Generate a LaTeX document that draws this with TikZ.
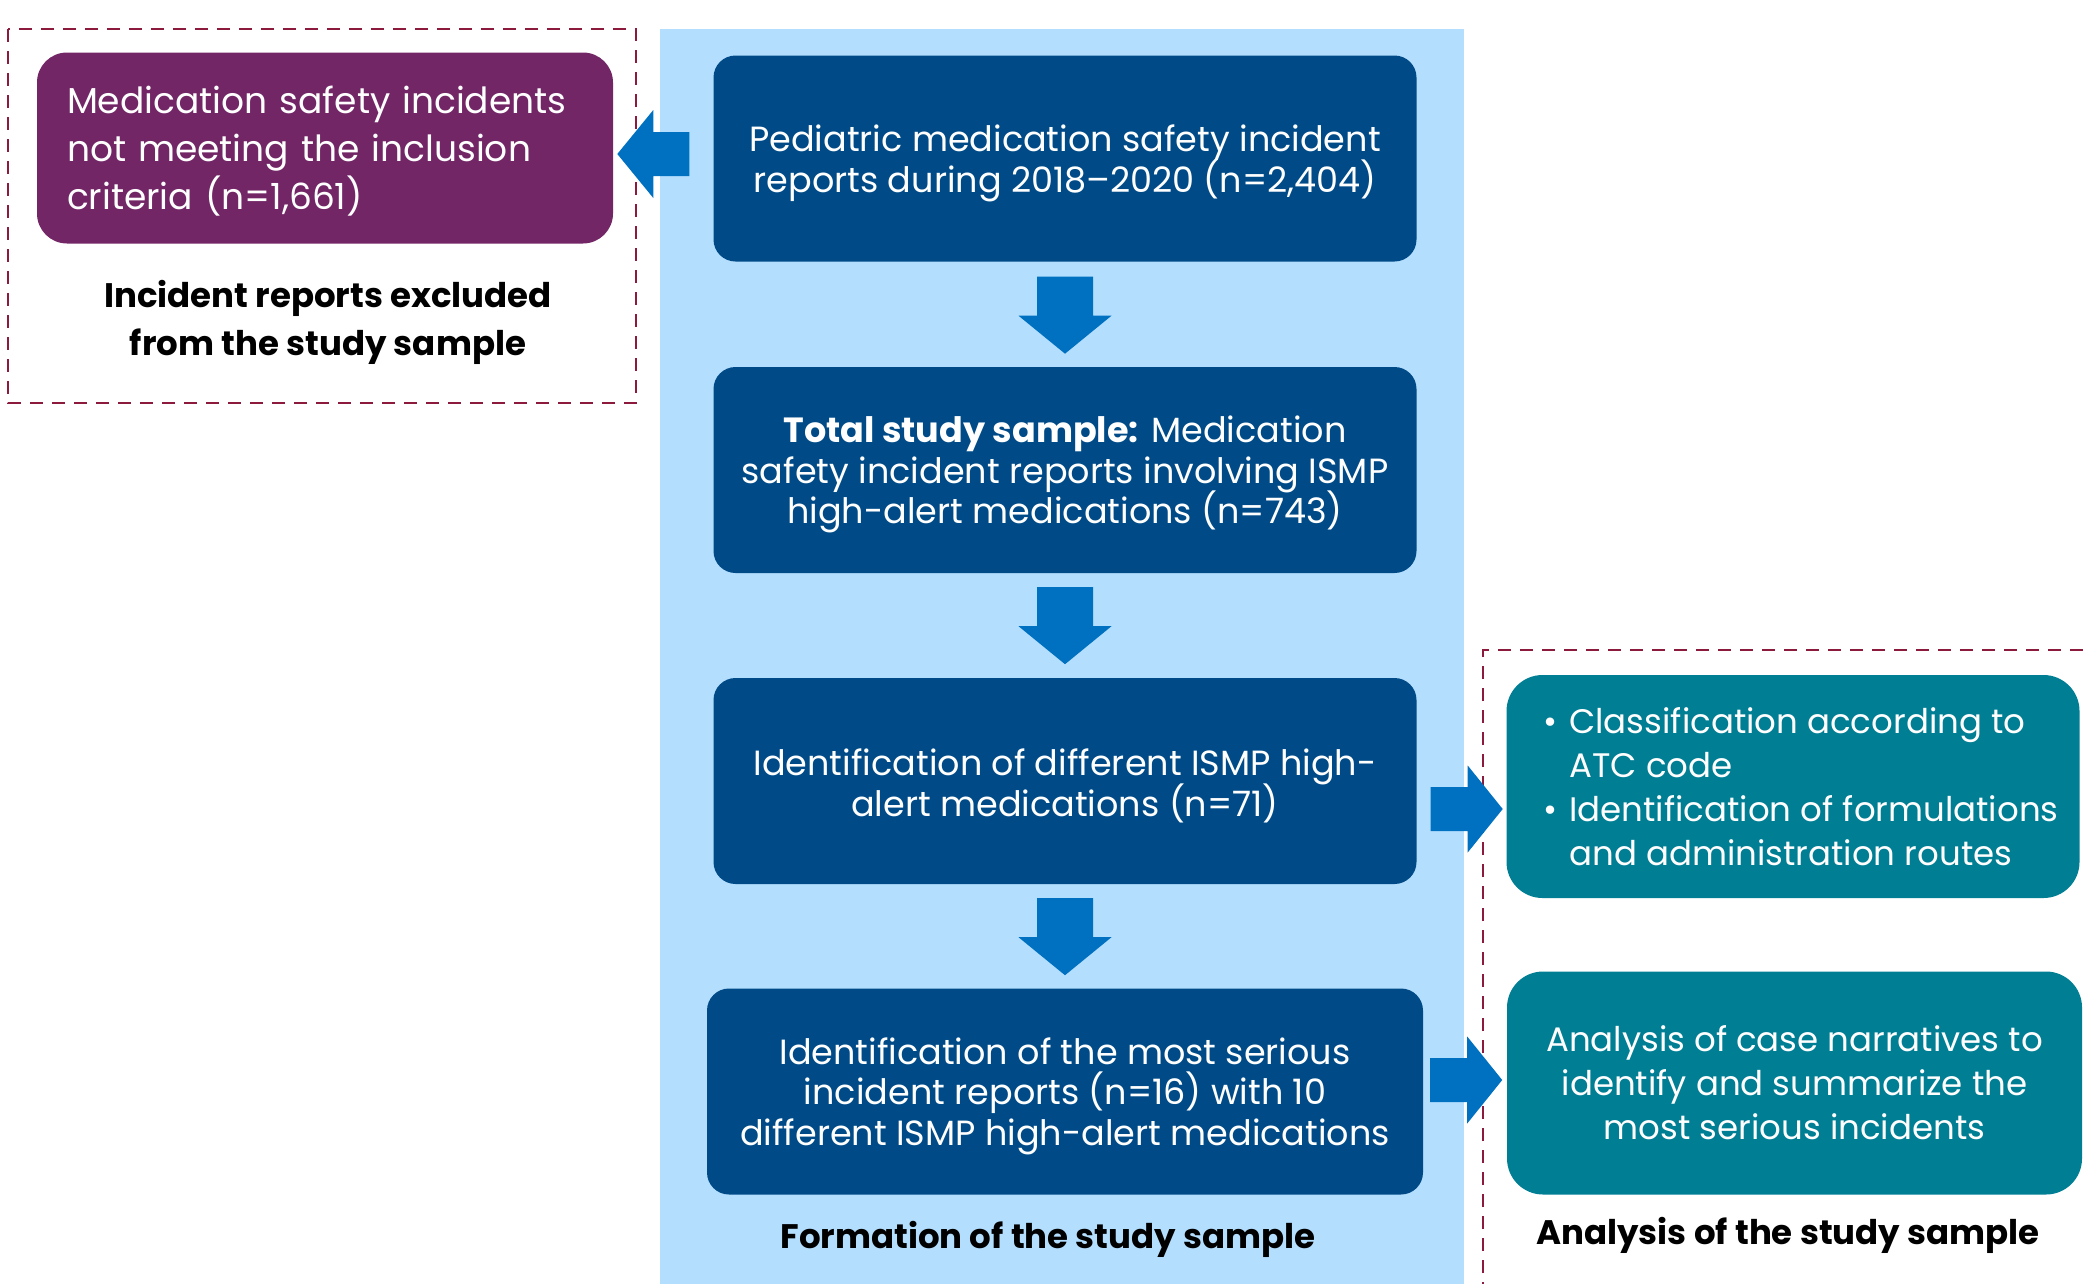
\documentclass[tikz,border=0pt]{standalone}
\usepackage{fontspec}
\setmainfont{Poppins}
\usetikzlibrary{arrows.meta}
\definecolor{panelblue}{RGB}{179,222,254}
\definecolor{darkblue}{RGB}{0,75,135}
\definecolor{arrowblue}{RGB}{0,112,192}
\definecolor{purplebox}{RGB}{114,38,102}
\definecolor{tealbox}{RGB}{0,126,148}
\definecolor{dashred}{RGB}{139,26,61}
\newcommand{\lowtext}[3]{\raisebox{-#1}[0pt][0pt]{\parbox{#2}{\lineskiplimit=-20pt\relax\centering #3}}}
\begin{document}
\begin{tikzpicture}[x=1pt,y=-1pt,
  bluebox/.style={fill=darkblue, rounded corners=22pt, minimum width=703pt, minimum height=206pt, inner sep=0pt, text=white, align=center, font=\fontsize{35}{40.5}\selectfont},
  purplestyle/.style={fill=purplebox, rounded corners=30pt, minimum width=576pt, minimum height=191pt, inner xsep=30pt, inner ysep=0pt, text width=516pt, text=white, align=left, font=\fontsize{36}{48}\selectfont},
  tealstyle/.style={fill=tealbox, rounded corners=36pt, minimum width=573pt, minimum height=223pt, inner sep=0pt, text=white, align=center, font=\fontsize{34}{44}\selectfont},
  heading/.style={inner sep=0pt, align=center, font=\fontsize{34}{48}\selectfont\bfseries},
  dashbox/.style={draw=dashred, line width=2.5pt, dash pattern=on 13pt off 9pt},
  arrowfill/.style={fill=arrowblue}
]
\useasboundingbox (0,0) rectangle (2090,1283);
\fill[white] (0,0) rectangle (2090,1283);
% panel
\fill[panelblue] (660,29) rectangle (1464,1290);
% dashed frames
\draw[dashbox] (8,29) rectangle (636,403);
\draw[dashbox] (1483,1295) -- (1483,650) -- (2100,650);
% excluded box
\node[purplestyle] (p) at (325,148) {\raisebox{-9pt}[0pt][0pt]{\parbox{516pt}{\raggedright Medication safety incidents not meeting the inclusion criteria (n=1,661)}}};
\node[heading] (hx) at (328,322) {Incident reports excluded\\from the study sample};
% main boxes
\node[bluebox] (b1) at (1065,158.5) {\lowtext{11pt}{680pt}{Pediatric medication safety incident\\reports during 2018\textendash2020 (n=2,404)}};
\node[bluebox] (b2) at (1065,470) {\lowtext{11pt}{680pt}{\textbf{Total study sample:} Medication\\safety incident reports involving ISMP\\high-alert medications (n=743)}};
\node[bluebox] (b3) at (1065,781) {\lowtext{11pt}{680pt}{Identification of different ISMP high-\\alert medications (n=71)}};
\node[bluebox, minimum width=716pt] (b4) at (1065,1091.5) {\lowtext{11pt}{690pt}{Identification of the most serious\\incident reports (n=16) with 10\\different ISMP high-alert medications}};
\node[heading, anchor=base] (hf) at (1048,1248) {Formation of the study sample};
% analysis boxes
\node[tealstyle] (t1) at (1793,786.5) {\hspace*{16pt}\raisebox{-10.5pt}[0pt][0pt]{\begin{tabular}{@{}l@{\hspace{12pt}}l@{}}\textbullet & Classification according to\\ & ATC code\\ \textbullet & Identification of formulations\\ & and administration routes\end{tabular}}};
\node[tealstyle, minimum width=575pt] (t2) at (1794.5,1083) {Analysis of case narratives to\\identify and summarize the\\most serious incidents};
\node[heading, anchor=base] (ha) at (1788,1244) {Analysis of the study sample};
% arrows
\fill[arrowfill] ([xshift=-24pt,yshift=26.5pt]b1.west) -- ++(-36,0) -- ++(0,-22) -- ++(-36,44) -- ++(36,44) -- ++(0,-22) -- ++(36,0) -- cycle;
\fill[arrowfill] ([xshift=-28pt,yshift=-15pt]b1.south) -- ++(56,0) -- ++(0,39) -- ++(18.5,0) -- ++(-46.5,38) -- ++(-46.5,-38) -- ++(18.5,0) -- cycle;
\fill[arrowfill] ([xshift=-28pt,yshift=-14pt]b2.south) -- ++(56,0) -- ++(0,39) -- ++(18.5,0) -- ++(-46.5,38) -- ++(-46.5,-38) -- ++(18.5,0) -- cycle;
\fill[arrowfill] ([xshift=-28pt,yshift=-14pt]b3.south) -- ++(56,0) -- ++(0,39) -- ++(18.5,0) -- ++(-46.5,38) -- ++(-46.5,-38) -- ++(18.5,0) -- cycle;
\fill[arrowfill] ([xshift=14pt,yshift=-6pt]b3.east) -- ++(37,0) -- ++(0,-21.5) -- ++(35,43.5) -- ++(-35,43.5) -- ++(0,-21.5) -- ++(-37,0) -- cycle;
\fill[arrowfill] ([xshift=7pt,yshift=33.5pt]b4.east) -- ++(37,0) -- ++(0,-21.5) -- ++(35,43.5) -- ++(-35,43.5) -- ++(0,-21.5) -- ++(-37,0) -- cycle;
\end{tikzpicture}
\end{document}
